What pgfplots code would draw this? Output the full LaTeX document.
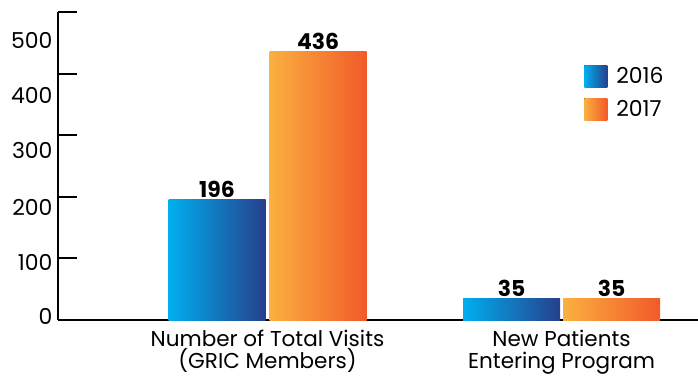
\documentclass[border=0pt]{standalone}
\usepackage{pgfplots}
\pgfplotsset{compat=1.18}
\usepackage{fontspec}
\setmainfont{Poppins}
\definecolor{bL}{RGB}{0,174,239}
\definecolor{bR}{RGB}{38,64,140}
\definecolor{oL}{RGB}{251,176,64}
\definecolor{oR}{RGB}{241,90,41}
\begin{document}
\begin{tikzpicture}
\begin{axis}[
 name=ax, scale only axis, width=640bp, height=308bp,
 xmin=-0.7126, xmax=1.464, ymin=0, ymax=500,
 axis x line=bottom, axis y line=left,
 axis line style={-, line width=2bp, black},
 ybar, bar width=97bp,
 xtick={0,1},
 xticklabels={{Number of Total Visits\\(GRIC Members)},{New Patients\\Entering Program}},
 xticklabel style={align=center, font=\fontsize{21.6}{21.5}\selectfont, yshift=-7bp},
 x tick style={draw=none},
 ytick={0,100,200,300,400,500}, yticklabels={},
 y tick style={line width=2bp, black},
 tick align=inside, major tick length=19bp,
 extra y ticks={5,93,183,275,364,454},
 extra y tick labels={0,100,200,300,400,500},
 extra y tick style={major tick length=0pt, y tick style={draw=none}},
 yticklabel style={font=\fontsize{22}{22}\selectfont, xshift=-2bp},
 /pgf/number format/assume math mode=true,
 nodes near coords,
 every node near coord/.append style={font=\bfseries\fontsize{22}{22}\selectfont, text=black, inner sep=1.5bp},
 legend style={draw=none, fill=none, at={(0.822,0.828)}, anchor=north west, font=\fontsize{22}{22}\selectfont, row sep=11bp, inner sep=0pt},
 legend cell align=left,
 legend image code/.code={\fill[#1] (0bp,-11bp) rectangle (23bp,11bp); \path (30bp,0bp);},
]
\addplot[draw=none, left color=bL, right color=bR, bar shift=-50.5bp] coordinates {(0,196)};
\addplot[draw=none, left color=oL, right color=oR, bar shift=50.5bp] coordinates {(0,436)};
\addplot[forget plot, draw=none, left color=bL, right color=bR, bar shift=-50bp] coordinates {(1,35)};
\addplot[forget plot, draw=none, left color=oL, right color=oR, bar shift=50bp] coordinates {(1,35)};
\legend{2016,2017}
\end{axis}
\pgfresetboundingbox
\path[use as bounding box] ([shift={(-58bp,-57bp)}]ax.south west) rectangle ([shift={(0bp,12bp)}]ax.north east);
\end{tikzpicture}
\end{document}
